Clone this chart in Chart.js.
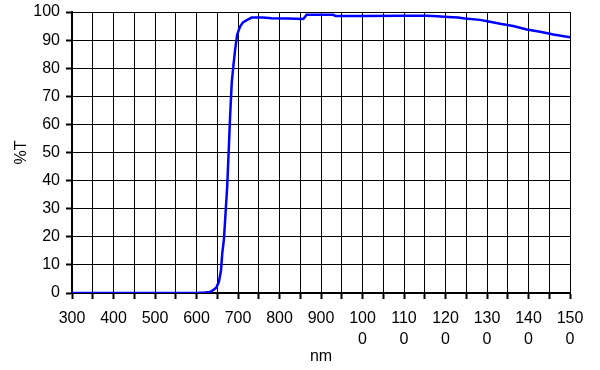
<!DOCTYPE html>
<html>
<head>
<meta charset="utf-8">
<script src="https://cdn.jsdelivr.net/npm/chart.js@4"></script>
<style>
  html, body { margin: 0; padding: 0; background: #fff; }
  #wrap { width: 600px; height: 370px; }
</style>
</head>
<body>
<div id="wrap"><canvas id="spectrumChart"></canvas></div>
<script>
// wavelength (nm) and transmission (%T)
var wavelength = [300, 400, 500, 600, 620, 633, 640, 648, 654, 659, 662, 666, 669, 674, 678, 681, 685, 689, 693, 698, 705, 712, 720, 733, 760, 781, 820, 857, 860, 865, 900, 929, 935, 1000, 1100, 1155, 1180, 1206, 1230, 1247, 1283, 1307, 1335, 1363, 1396, 1428, 1460, 1500];
var transmission = [0, 0, 0, 0, 0.2, 0.4, 1, 2, 4, 8, 14, 19, 26, 38, 52, 63, 75, 81, 86.5, 92, 94.8, 96.3, 97, 98, 98, 97.8, 97.7, 97.5, 98, 99, 99, 99, 98.6, 98.6, 98.7, 98.7, 98.5, 98.2, 98, 97.7, 97.2, 96.5, 95.7, 95, 93.8, 93, 92, 91];
var xTicks = [300, 400, 500, 600, 700, 800, 900, 1000, 1100, 1200, 1300, 1400, 1500];
var yTicks = [0, 10, 20, 30, 40, 50, 60, 70, 80, 90, 100];

var points = wavelength.map(function (w, i) { return { x: w, y: transmission[i] }; });

Chart.defaults.color = "#000";
Chart.defaults.font.family = "'Liberation Sans', Arial, sans-serif";
Chart.defaults.font.size = 16;

var ctx = document.getElementById("spectrumChart");
var myChart = new Chart(ctx, {
    type: "scatter",
    data: {
        datasets: [{
            label: "%T",
            data: points,
            showLine: true,
            borderColor: "#0000ff",
            borderWidth: 2.5,
            pointRadius: 0,
            tension: 0,
            fill: false
        }]
    },
    options: {
        responsive: true,
        maintainAspectRatio: false,
        animation: false,
        layout: { padding: { top: 12, right: 30, left: 0, bottom: 0 } },
        plugins: {
            legend: { display: false },
            tooltip: { enabled: false }
        },
        scales: {
            x: {
                type: "linear",
                min: 300,
                max: 1500,
                ticks: {
                    stepSize: 50,
                    maxRotation: 0,
                    autoSkip: false,
                    padding: 9,
                    font: { lineHeight: 1.3 },
                    callback: function (v) {
                        if (xTicks.indexOf(v) < 0) return "";
                        var s = String(v);
                        return s.length > 3 ? [s.slice(0, 3), s.slice(3)] : s;
                    }
                },
                grid: {
                    color: "#000",
                    lineWidth: 1,
                    tickLength: 6,
                    tickColor: "#000",
                    tickWidth: 2
                },
                border: { color: "#000", width: 2 },
                title: { display: true, text: "nm", padding: { top: 0, bottom: 4 } },
                afterFit: function (scale) { scale.height = 77; }
            },
            y: {
                min: 0,
                max: 100,
                ticks: {
                    stepSize: 5,
                    padding: 6,
                    callback: function (v) { return yTicks.indexOf(v) >= 0 ? String(v) : ""; }
                },
                grid: {
                    color: function (c) { return c.tick && c.tick.value % 10 === 0 ? "#000" : "rgba(0,0,0,0)"; },
                    lineWidth: 1,
                    tickLength: 6,
                    tickColor: "#000",
                    tickWidth: 2
                },
                border: { color: "#000", width: 2 },
                title: { display: true, text: "%T", padding: { top: 12, bottom: 0 } },
                afterFit: function (scale) {
                    scale.width = 72;
                    scale.paddingTop = 0;
                    scale.paddingBottom = 0;
                }
            }
        }
    }
});
</script>
</body>
</html>
